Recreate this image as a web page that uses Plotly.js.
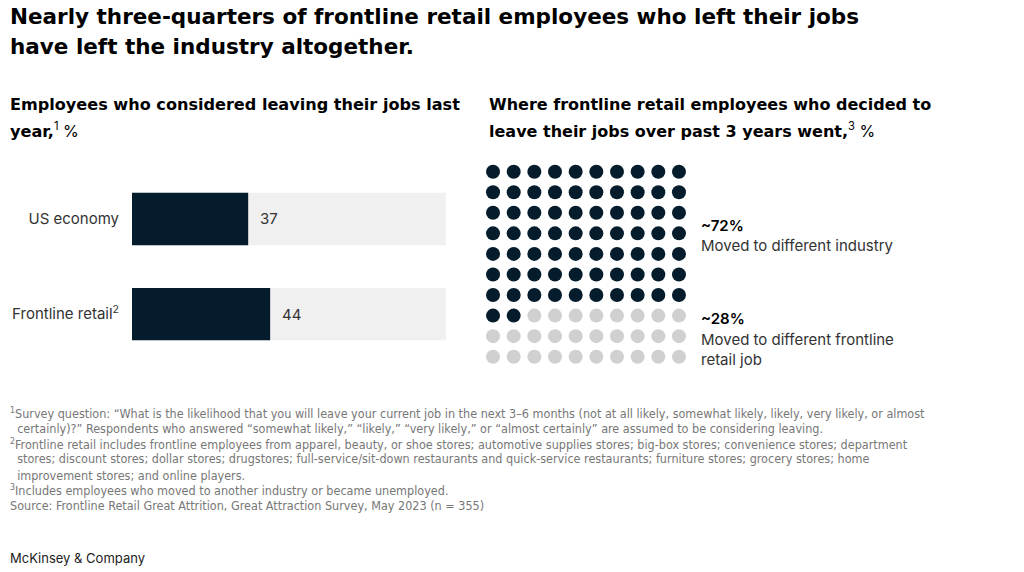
<!DOCTYPE html>
<html><head><meta charset="utf-8">
<script src="https://cdn.plot.ly/plotly-3.0.1.min.js"></script>
<style>html,body{margin:0;padding:0;background:#fff}#chart{width:1024px;height:572px}</style>
</head><body><div id="chart"></div>
<script>
// ---- data ----
const barCategories = ["US economy", "Frontline retail<sup>2</sup>"];
const barValues = [37, 44];
const barMax = [100, 100];
const waffleLabels = ["~72%", "~28%"];
const waffleDescriptions = ["Moved to different industry", "Moved to different frontline", "retail job"];
const waffleShares = [72, 28];
const footnotes = [
  "<sup>1</sup>Survey question: “What is the likelihood that you will leave your current job in the next 3–6 months (not at all likely, somewhat likely, likely, very likely, or almost",
  "  certainly)?” Respondents who answered “somewhat likely,” “likely,” “very likely,” or “almost certainly” are assumed to be considering leaving.",
  "<sup>2</sup>Frontline retail includes frontline employees from apparel, beauty, or shoe stores; automotive supplies stores; big-box stores; convenience stores; department",
  "  stores; discount stores; dollar stores; drugstores; full-service/sit-down restaurants and quick-service restaurants; furniture stores; grocery stores; home",
  "  improvement stores; and online players.",
  "<sup>3</sup>Includes employees who moved to another industry or became unemployed.",
  "Source: Frontline Retail Great Attrition, Great Attraction Survey, May 2023 (n = 355)"
];

// ---- styles ----
const W = 1024, H = 572;
const NAVY = "#051c2c", GREY_DOT = "#d0d0d0", BAR_BG = "#f0f0f0";
const FONT = "Inter, Liberation Sans, Arial, sans-serif";
const HEAD = "DejaVu Sans, Inter, sans-serif";
const NARROW = "Liberation Sans Narrow, DejaVu Sans Condensed, sans-serif";
const px = x => x / W, py = y => 1 - y / H;

// waffle grid
const wx = [], wy = [], wc = [];
let idx = 0;
waffleShares.forEach((s, k) => {
  for (let i = 0; i < s; i++, idx++) {
    wx.push(idx % 10); wy.push(Math.floor(idx / 10));
    wc.push(k === 0 ? NAVY : GREY_DOT);
  }
});

const traces = [
  {type: "bar", orientation: "h", y: barCategories, x: barMax, width: 0.55,
   marker: {color: BAR_BG}, xaxis: "x", yaxis: "y", hoverinfo: "skip"},
  {type: "bar", orientation: "h", y: barCategories, x: barValues, width: 0.55,
   marker: {color: NAVY}, xaxis: "x", yaxis: "y"},
  {type: "scatter", mode: "markers", x: wx, y: wy, xaxis: "x2", yaxis: "y2",
   marker: {color: wc, size: 14}, hoverinfo: "skip"}
];

const ann = [];
const txt = (text, x, y, font) => ann.push({
  text, x: px(x), y: py(y), xref: "paper", yref: "paper", xanchor: "left", yanchor: "middle",
  showarrow: false, align: "left", font
});
const F = (size, color, weight) => ({family: FONT, size, color, weight: weight || 400});
const HF = (size) => ({family: HEAD, size, color: "#000", weight: 700});

txt("Nearly three-quarters of frontline retail employees who left their jobs", 8, 17, HF(21.5));
txt("have left the industry altogether.", 8, 46, HF(21.5));
txt("Employees who considered leaving their jobs last", 8, 105, HF(16.1));
txt("year,<span style='font-family:Inter;font-weight:400'><sup>1</sup> %</span>", 8, 130, HF(16.1));
txt("Where frontline retail employees who decided to", 487, 105, HF(16));
txt("leave their jobs over past 3 years went,<span style='font-family:Inter;font-weight:400'><sup>3</sup> %</span>", 487, 130, HF(16));

barValues.forEach((v, i) => ann.push({
  text: String(v), x: v, y: barCategories[i], xref: "x", yref: "y", xshift: 10,
  xanchor: "left", yanchor: "middle", showarrow: false, font: F(15, "#333")
}));

txt(waffleLabels[0], 699, 225, F(15, "#000", 600));
txt(waffleDescriptions[0], 699, 245, F(15, "#333"));
txt(waffleLabels[1], 699, 318, F(15, "#000", 600));
txt(waffleDescriptions[1], 699, 339, F(15, "#333"));
txt(waffleDescriptions[2], 699, 359, F(15, "#333"));

const fy = [413, 428, 444, 459, 475, 490, 505];
footnotes.forEach((f, i) => txt(f, 8, fy[i], {family: NARROW, size: 12.5, color: "#777"}));
txt("McKinsey & Company", 8, 558, F(13, "#222"));

const layout = {
  width: W, height: H, margin: {l: 0, r: 0, t: 0, b: 0},
  paper_bgcolor: "#fff", plot_bgcolor: "#fff", showlegend: false, barmode: "overlay",
  xaxis: {domain: [px(132), px(446)], range: [0, 100], visible: false, fixedrange: true},
  yaxis: {domain: [py(361.5), py(171.5)], range: [1.5, -0.5], showgrid: false, zeroline: false,
          showline: false, ticks: "", ticklabelstandoff: 12,
          tickfont: F(15, "#333")},
  xaxis2: {domain: [px(482.7), px(689.3)], range: [-0.5, 9.5], visible: false, anchor: "y2"},
  yaxis2: {domain: [py(367), py(161.4)], range: [9.5, -0.5], visible: false, anchor: "x2"},
  annotations: ann
};

Plotly.newPlot("chart", traces, layout, {displayModeBar: false, staticPlot: true});
</script></body></html>
